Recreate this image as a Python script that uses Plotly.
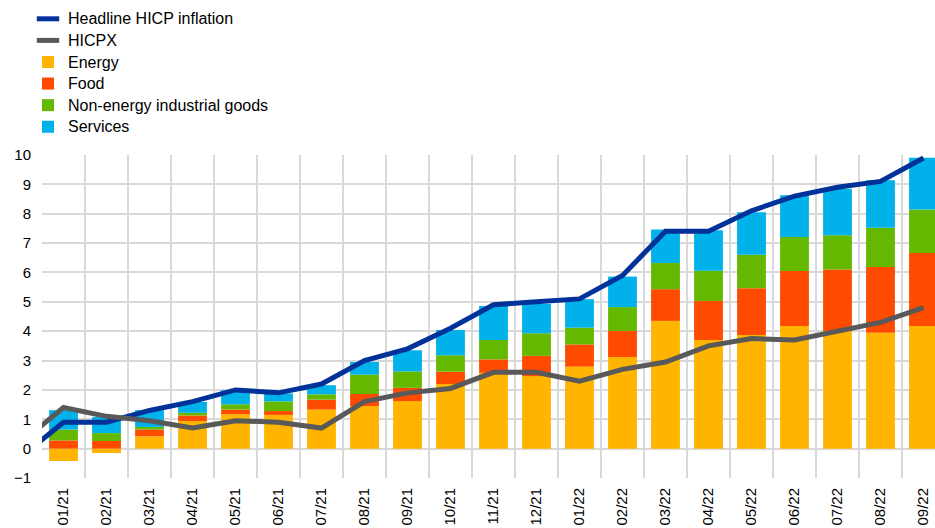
import plotly.graph_objects as go

months = ["12/20", "01/21", "02/21", "03/21", "04/21", "05/21", "06/21", "07/21", "08/21", "09/21",
          "10/21", "11/21", "12/21", "01/22", "02/22", "03/22", "04/22", "05/22", "06/22",
          "07/22", "08/22", "09/22"]

headline = [-0.3, 0.9, 0.9, 1.3, 1.6, 2.0, 1.9, 2.2, 3.0, 3.4, 4.1, 4.9, 5.0, 5.1, 5.9, 7.4, 7.4,
            8.1, 8.6, 8.9, 9.1, 9.9]
hicpx = [0.2, 1.4, 1.1, 0.95, 0.7, 0.95, 0.9, 0.7, 1.6, 1.9, 2.05, 2.6, 2.6, 2.3, 2.7, 2.95, 3.5,
         3.75, 3.7, 4.0, 4.3, 4.8]

energy = [None, -0.42, -0.15, 0.42, 0.94, 1.17, 1.15, 1.33, 1.45, 1.62, 2.20, 2.58, 2.47, 2.79,
          3.12, 4.35, 3.70, 3.87, 4.18, 4.00, 3.95, 4.18]
food = [None, 0.28, 0.26, 0.23, 0.19, 0.16, 0.13, 0.34, 0.41, 0.45, 0.42, 0.46, 0.69, 0.76,
        0.89, 1.08, 1.33, 1.59, 1.87, 2.10, 2.24, 2.48]
neig = [None, 0.37, 0.27, 0.09, 0.09, 0.18, 0.33, 0.18, 0.66, 0.56, 0.56, 0.66, 0.77, 0.57,
        0.81, 0.89, 1.03, 1.14, 1.16, 1.17, 1.33, 1.48]
services = [None, 0.66, 0.55, 0.57, 0.37, 0.48, 0.27, 0.31, 0.43, 0.72, 0.86, 1.16, 1.00, 0.97,
            1.04, 1.14, 1.38, 1.45, 1.42, 1.58, 1.62, 1.77]

y_ticks = list(range(-1, 11))

C_BLUE = "#003299"
C_GREY = "#595959"
C_ENERGY = "#FFB400"
C_FOOD = "#FF4B00"
C_NEIG = "#65B800"
C_SERV = "#00B1EA"


def leg(label):
    return '<span style="font-size:16px">' + label + "</span>"


fig = go.Figure()

# actual lines (legend handled by dummy traces for short dash symbols)
fig.add_trace(go.Scatter(x=months, y=headline, mode="lines", name="Headline HICP inflation",
                         line=dict(color=C_BLUE, width=5), showlegend=False))
fig.add_trace(go.Scatter(x=months, y=hicpx, mode="lines", name="HICPX",
                         line=dict(color=C_GREY, width=5), showlegend=False))

fig.add_trace(go.Scatter(x=[None], y=[None], mode="markers", name=leg("Headline HICP inflation"),
                         marker=dict(symbol="line-ew", size=16, color=C_BLUE,
                                     line=dict(color=C_BLUE, width=5))))
fig.add_trace(go.Scatter(x=[None], y=[None], mode="markers", name=leg("HICPX"),
                         marker=dict(symbol="line-ew", size=16, color=C_GREY,
                                     line=dict(color=C_GREY, width=5))))

for name, vals, col in [("Energy", energy, C_ENERGY), ("Food", food, C_FOOD),
                        ("Non-energy industrial goods", neig, C_NEIG),
                        ("Services", services, C_SERV)]:
    fig.add_trace(go.Bar(x=months, y=vals, name=leg(name), marker=dict(color=col, line=dict(width=0))))

W, H = 935, 528
ML, MT, MB = 42, 155, 50
plot_w = W - ML  # extends to right edge
cat_px = 43.0
x_end = 0.5 + plot_w / cat_px

fig.update_layout(
    width=W, height=H,
    margin=dict(l=ML, r=0, t=MT, b=MB, autoexpand=False),
    barmode="relative",
    bargap=0.33,
    plot_bgcolor="white",
    paper_bgcolor="white",
    font=dict(family="Liberation Sans, Arial, sans-serif", size=14, color="#000000"),
    legend=dict(
        xref="container", yref="container",
        x=28 / W, y=1 - 3 / H, xanchor="left", yanchor="top",
        traceorder="normal",
        font=dict(size=14.3),
        bgcolor="rgba(0,0,0,0)",
        itemclick=False,
        tracegroupgap=0,
    ),
    showlegend=True,
)

fig.update_xaxes(
    type="category",
    categoryorder="array", categoryarray=months,
    range=[0.5, x_end],
    tickson="boundaries",
    showgrid=True, gridcolor="#d9d9d9", gridwidth=1.5,
    tickangle=-90,
    tickfont=dict(size=15),
    ticklabelstandoff=6,
    ticks="", showline=False, zeroline=False,
    automargin=False,
    fixedrange=True,
)
fig.update_yaxes(
    range=[-1, 10],
    tickvals=y_ticks,
    showgrid=True, gridcolor="#d9d9d9", gridwidth=1.5,
    zeroline=True, zerolinecolor="#d9d9d9", zerolinewidth=1.5,
    ticks="", showline=False,
    tickfont=dict(size=15),
    ticklabelstandoff=10,
    automargin=False,
    fixedrange=True,
)

fig.write_html(
    "out.html",
    config={"displayModeBar": False},
    post_script="document.body.style.margin='0';document.body.style.overflow='hidden';",
)
